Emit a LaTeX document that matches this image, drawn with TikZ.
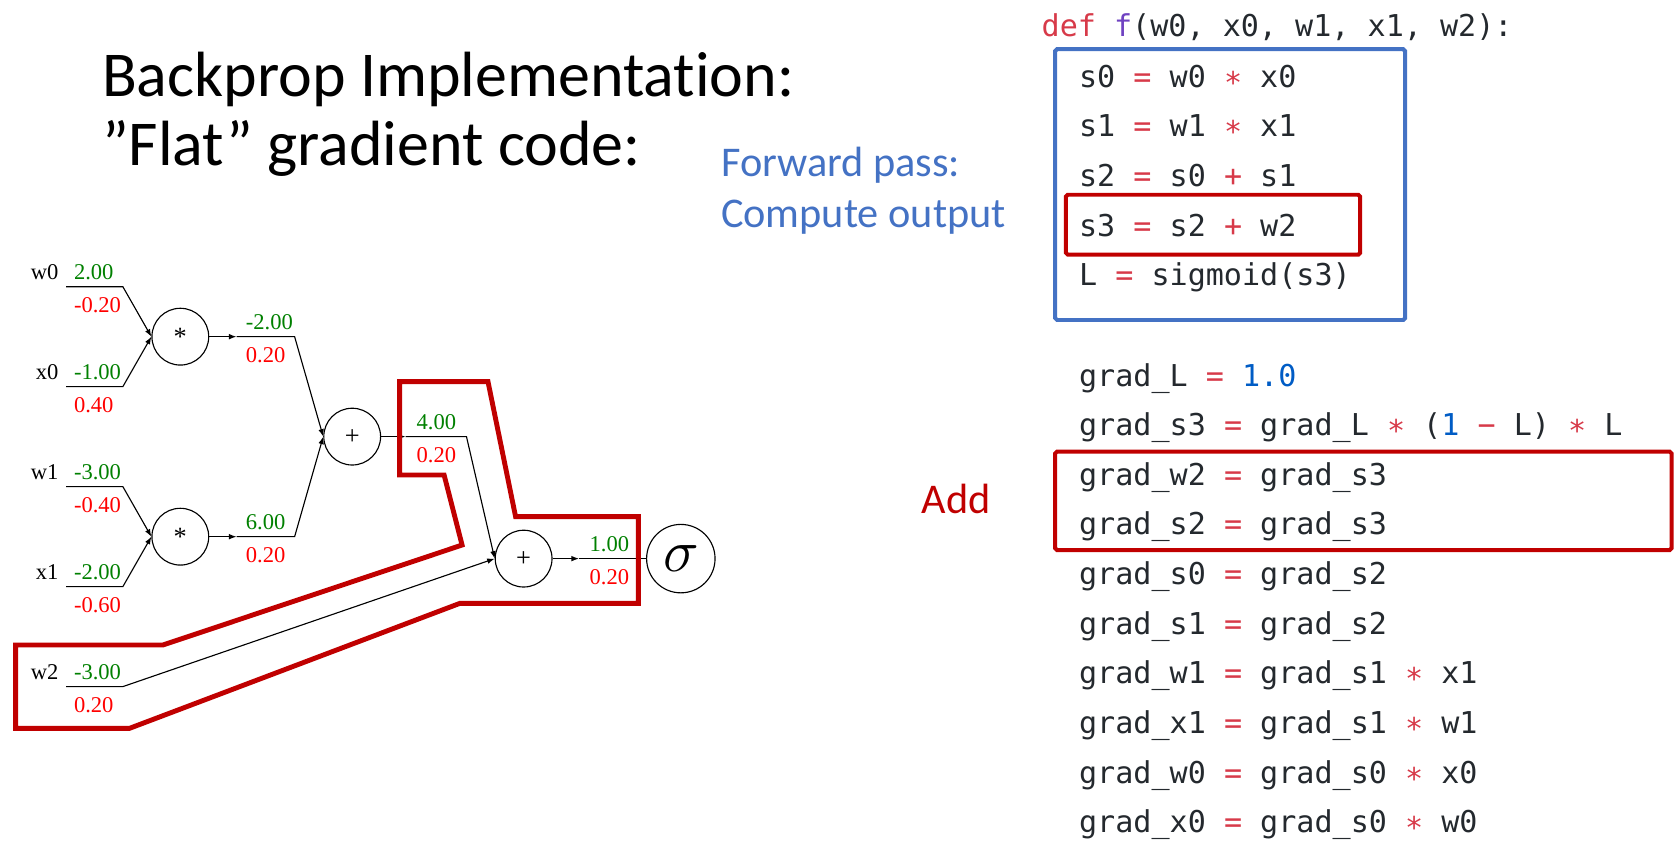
\RequirePackage{fix-cm}
\documentclass[tikz,border=0pt]{standalone}
\usepackage{fontspec}
\setmainfont{Carlito}[Ligatures=NoCommon]
\newfontfamily\codefont{DejaVu Sans Mono}
\newfontfamily\graphfont{Liberation Serif}
\usetikzlibrary{arrows.meta}
\definecolor{boxblue}{RGB}{68,114,196}
\definecolor{boxred}{RGB}{192,0,0}
\definecolor{codetext}{RGB}{36,41,46}
\definecolor{codered}{RGB}{215,58,73}
\definecolor{codepurple}{RGB}{111,66,193}
\definecolor{codeblue}{RGB}{0,92,197}
\definecolor{valgreen}{RGB}{0,128,0}
\definecolor{gradred}{RGB}{255,0,0}
\newcommand{\kw}[1]{\textcolor{codered}{#1}}
\newcommand{\num}[1]{\textcolor{codeblue}{#1}}
\tikzset{
  code/.style={anchor=base west, inner sep=0pt, text=codetext, font=\codefont\fontsize{16}{18}\selectfont},
  slide/.style={anchor=base west, inner sep=0pt, font=\fontsize{22.5}{22.5}\selectfont},
  opnode/.style={draw, circle, minimum size=30.2pt, inner sep=0pt, line width=0.6pt, font=\graphfont\fontsize{14}{14}\selectfont},
  fwdval/.style={anchor=base west, inner sep=0pt, text=valgreen, font=\graphfont\fontsize{12}{12}\selectfont},
  bwdval/.style={anchor=north west, inner sep=0pt, text=gradred, font=\graphfont\fontsize{12}{12}\selectfont},
  varname/.style={anchor=base east, inner sep=0pt, font=\graphfont\fontsize{12}{12}\selectfont},
  wire/.style={line width=0.6pt},
  tip/.style={wire, -{Latex[length=4pt,width=3pt]}},
  redframe/.style={draw=boxred, line width=2.1pt},
}
\begin{document}
\begin{tikzpicture}[x=0.02cm, y=-0.02cm]
  \useasboundingbox (0,0) rectangle (1568,797);
  % Title
  \node[anchor=base west, inner sep=0pt, font=\fontsize{34}{34}\selectfont] (title1) at (95,90.3) {Backprop Implementation:};
  \node[anchor=base west, inner sep=0pt, font=\fontsize{34}{34}\selectfont] (title2) at (95,154.2) {”Flat” gradient code:};
  \node[slide, text=boxblue] (fwd1) at (673.5,165) {Forward pass:};
  \node[slide, text=boxblue] (fwd2) at (673.5,213) {Compute output};
  \node[slide, text=boxred] (add) at (861,480.3) {Add};
  % Graph operations
  \node[opnode] (m0) at (168.5,314.6) {*};
  \node[opnode] (m1) at (168.5,501.5) {*};
  \node[opnode] (a0) at (329.1,408) {+};
  \node[opnode] (a1) at (489.3,522) {+};
  \node[draw, circle, minimum size=36.4pt, inner sep=0pt, line width=0.6pt, font=\fontsize{32}{32}\selectfont] (sig) at (636.2,522) {$\sigma$};
  % Inputs with values and gradients
  \foreach \name/\y/\f/\b in {w0/267.9/2.00/-0.20, x0/361.3/-1.00/0.40, w1/454.7/-3.00/-0.40, x1/548.2/-2.00/-0.60, w2/641.6/-3.00/0.20} {
    \coordinate (\name-a) at (61.8,\y);
    \coordinate (\name-b) at (114.8,\y);
    \node[varname] (\name-lab) at (55,\y-7) {\name};
    \node[fwdval] (\name-f) at (68.8,\y-7) {\f};
    \node[bwdval] (\name-g) at (68.8,\y+9.5) {\b};
  }
  \draw[tip] (w0-a) -- (w0-b) -- (m0.west);
  \draw[tip] (x0-a) -- (x0-b) -- (m0.west);
  \draw[tip] (w1-a) -- (w1-b) -- (m1.west);
  \draw[tip] (x1-a) -- (x1-b) -- (m1.west);
  \draw[tip] (w2-a) -- (w2-b) -- (a1.west);
  % Intermediate wires
  \foreach \op/\next/\x/\k/\y/\f in {m0/a0/221/275.3/314.6/-2.00, m1/a0/221/275.3/501.5/6.00, a0/a1/379/435.9/408/4.00} {
    \coordinate (\op-t) at (\x,\y);
    \coordinate (\op-k) at (\k,\y);
    \draw[tip] (\op) -- (\op-t);
    \draw[tip] (\op-t) -- (\op-k) -- (\next.west);
  }
  \node[fwdval] (m0-f) at (229.4,307.6) {-2.00};
  \node[bwdval] (m0-g) at (229.4,324.1) {0.20};
  \node[fwdval] (m1-f) at (229.4,494.5) {6.00};
  \node[bwdval] (m1-g) at (229.4,511) {0.20};
  \node[fwdval] (a0-f) at (389,401) {4.00};
  \node[bwdval] (a0-g) at (389,417.5) {0.20};
  \coordinate (a1-t) at (541,522);
  \draw[tip] (a1) -- (a1-t);
  \draw[wire] (a1-t) -- (sig);
  \node[fwdval] (a1-f) at (550.6,515) {1.00};
  \node[bwdval] (a1-g) at (550.6,531.5) {0.20};
  % Red outline of the added path
  \draw[redframe, line width=2.6pt] (373.4,356.6) -- (456,356.6) -- (481.8,482.8) -- (596.5,482.8) -- (596.5,563.8) -- (429.7,563.8) -- (121,680.6) -- (14.6,680.6) -- (14.6,602.7) -- (152.3,602.7) -- (431.8,509.3) -- (415,443.9) -- (373.4,443.9) -- cycle;
  % Code: forward pass
  \node[code] (def) at (973,34.3) {\kw{def} \textcolor{codepurple}{f}(w0, x0, w1, x1, w2):};
  \foreach \txt [count=\k from 0] in {{s0 \kw{=} w0 \kw{∗} x0}, {s1 \kw{=} w1 \kw{∗} x1}, {s2 \kw{=} s0 \kw{+} s1}, {s3 \kw{=} s2 \kw{+} w2}, {L \kw{=} sigmoid(s3)}}
    \node[code] (fw\k) at (1008,81.6+46.4*\k) {\txt};
  \draw[draw=boxblue, line width=2.1pt, rounded corners=1pt] (986,46) rectangle (1313,299);
  \draw[redframe, rounded corners=1pt] (996,182) rectangle (1271,238);
  % Code: backward pass
  \foreach \txt [count=\k from 0] in {{grad\_L \kw{=} \num{1.0}}, {grad\_s3 \kw{=} grad\_L \kw{∗} (\num{1} \kw{−} L) \kw{∗} L}, {grad\_w2 \kw{=} grad\_s3}, {grad\_s2 \kw{=} grad\_s3}, {grad\_s0 \kw{=} grad\_s2}, {grad\_s1 \kw{=} grad\_s2}, {grad\_w1 \kw{=} grad\_s1 \kw{∗} x1}, {grad\_x1 \kw{=} grad\_s1 \kw{∗} w1}, {grad\_w0 \kw{=} grad\_s0 \kw{∗} x0}, {grad\_x0 \kw{=} grad\_s0 \kw{∗} w0}}
    \node[code] (bw\k) at (1008,360.7+46.4*\k) {\txt};
  \draw[redframe, rounded corners=1pt] (986,422) rectangle (1562,514);
\end{tikzpicture}
\end{document}
